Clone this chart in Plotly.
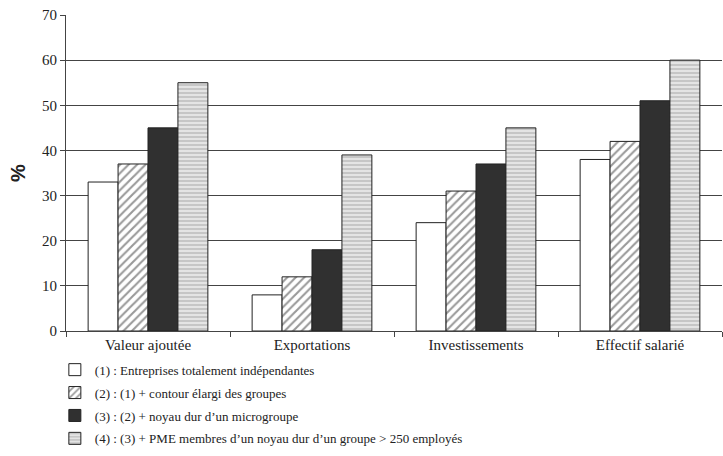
import plotly.graph_objects as go

categories = ["Valeur ajoutée", "Exportations", "Investissements", "Effectif salarié"]
series_names = [
    "(1) : Entreprises totalement indépendantes",
    "(2) : (1) + contour élargi des groupes",
    "(3) : (2) + noyau dur d’un microgroupe",
    "(4) : (3) + PME membres d’un noyau dur d’un groupe > 250 employés",
]
s1 = [33, 8, 24, 38]
s2 = [37, 12, 31, 42]
s3 = [45, 18, 37, 51]
s4 = [55, 39, 45, 60]
y_ticks = [0, 10, 20, 30, 40, 50, 60, 70]

FONT = "Liberation Serif, DejaVu Serif, serif"
fig = go.Figure()
styles = [
    dict(color="white", pattern=dict(shape="")),
    dict(color="white", pattern=dict(shape="/", fgcolor="#333333", bgcolor="white", size=6, solidity=0.35)),
    dict(color="#303030", pattern=dict(shape="")),
    dict(color="#dddddd", pattern=dict(shape="-", fgcolor="#999999", bgcolor="#e4e4e4", size=4, solidity=0.4)),
]
for i, (name, vals, st) in enumerate(zip(series_names, [s1, s2, s3, s4], styles)):
    fig.add_trace(go.Bar(
        x=categories, y=vals, name=name, legendgroup=f"g{i}",
        marker=dict(color=st["color"], pattern=st["pattern"], line=dict(color="#222222", width=1)),
    ))

fig.update_layout(
    width=723, height=456,
    margin=dict(l=66, r=1, t=15, b=125, autoexpand=False),
    paper_bgcolor="white", plot_bgcolor="white",
    barmode="group", bargap=0.27, bargroupgap=0,
    font=dict(family=FONT, size=14, color="#222222"),
    legend=dict(x=-0.017, y=-0.075, xanchor="left", yanchor="top",
                font=dict(family=FONT, size=13, color="#222222"),
                tracegroupgap=3, itemwidth=30),
    showlegend=True,
)
fig.update_yaxes(range=[0, 70], tickvals=y_ticks, showgrid=True, gridcolor="#444444", gridwidth=1,
                 showline=True, linecolor="#444444", ticks="outside", ticklen=5, tickcolor="#444444",
                 zeroline=False, automargin=False,
                 title=dict(text="<b>%</b>", font=dict(family="Liberation Sans, Arial, sans-serif", size=20, color="#222222"), standoff=11),
                 tickfont=dict(family=FONT, size=15))
fig.update_xaxes(showline=True, linecolor="#444444", ticks="outside", tickson="boundaries", ticklen=5,
                 tickcolor="#444444", automargin=False, tickfont=dict(family=FONT, size=15))

fig.write_html("out.html", config={"displayModeBar": False},
               post_script="document.body.style.margin='0';")
